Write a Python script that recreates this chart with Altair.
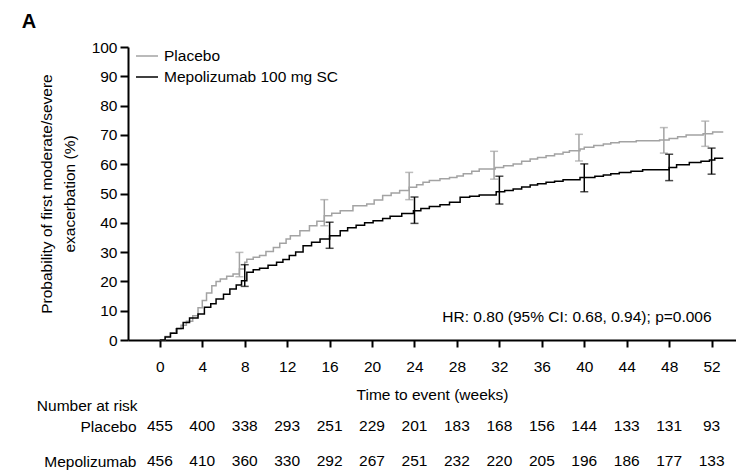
import altair as alt
import pandas as pd

SERIES = ["Placebo", "Mepolizumab 100 mg SC"]
COLORS = ["#a3a3a3", "#000000"]

# Kaplan-Meier style cumulative probability (week, %)
placebo_curve = [
    (0, 0), (0.5, 1.2), (1.0, 2.5), (1.5, 3.8), (2.0, 5.0), (2.5, 6.4), (3.1, 8.3),
    (3.6, 11.0), (4.0, 13.5), (4.4, 16.0), (4.9, 18.5), (5.3, 20.0), (5.7, 20.8),
    (6.3, 21.8), (6.9, 22.5), (7.5, 24.2), (8.0, 26.5), (8.2, 27.6), (8.8, 28.2),
    (9.4, 28.8), (10.0, 30.2), (10.7, 31.6), (11.3, 33.0), (11.9, 34.5), (12.3, 35.6),
    (13.2, 37.3), (14.1, 39.0), (14.8, 40.5), (15.5, 42.4), (16.2, 43.3), (17.0, 44.1),
    (18.2, 45.8), (19.5, 46.4), (20.2, 47.8), (21.0, 49.3), (21.8, 50.2), (22.6, 51.0),
    (23.5, 52.1), (24.2, 53.0), (24.8, 53.8), (25.4, 54.4), (26.4, 55.0), (27.3, 55.5),
    (28.0, 56.0), (28.6, 56.7), (29.4, 57.6), (30.1, 58.4), (31.6, 58.9), (32.4, 59.5),
    (33.3, 60.1), (34.1, 61.0), (34.9, 61.8), (35.6, 62.3), (36.4, 62.9), (37.2, 63.5),
    (38.0, 64.1), (38.6, 64.6), (39.6, 65.2), (40.0, 65.8), (40.9, 66.4), (41.8, 66.9),
    (42.5, 67.3), (43.3, 67.7), (44.9, 68.0), (47.1, 68.3), (48.0, 68.8), (48.8, 69.4),
    (49.6, 70.0), (51.2, 70.4), (52.1, 71.0), (53.1, 71.0),
]
mepo_curve = [
    (0, 0), (0.5, 1.0), (1.0, 2.3), (1.6, 3.9), (2.2, 6.0), (2.8, 7.5), (3.6, 8.9),
    (4.2, 11.2), (4.8, 12.4), (5.3, 14.0), (6.0, 15.6), (6.6, 17.4), (7.2, 18.8),
    (7.7, 20.2), (8.2, 23.1), (8.8, 24.0), (9.4, 24.5), (10.2, 25.5), (11.0, 26.5),
    (11.6, 27.5), (12.2, 28.8), (12.8, 30.0), (13.5, 32.2), (14.3, 33.4), (15.1, 34.5),
    (16.0, 35.6), (17.0, 37.3), (17.7, 38.3), (18.5, 39.2), (19.3, 40.0), (20.1, 40.7),
    (21.0, 41.5), (21.7, 42.2), (22.8, 43.2), (23.9, 44.1), (24.6, 44.9), (25.4, 45.6),
    (26.4, 46.2), (27.3, 47.0), (28.3, 48.7), (29.2, 49.1), (30.1, 49.5), (31.7, 50.6),
    (32.5, 51.0), (33.3, 51.5), (34.1, 52.2), (34.9, 52.9), (35.6, 53.3), (36.4, 53.8),
    (37.2, 54.2), (38.0, 54.7), (39.6, 55.5), (41.0, 55.9), (41.8, 56.3), (42.5, 56.7),
    (43.3, 57.2), (44.4, 57.6), (45.5, 58.1), (48.0, 58.9), (48.7, 59.8), (49.9, 60.6),
    (51.0, 61.0), (51.8, 61.4), (52.3, 62.0), (53.1, 62.0),
]

# 95% CI error bars
placebo_bar_weeks = [7.5, 15.5, 23.5, 31.5, 39.5, 47.5, 51.4]
placebo_upper = [29.9, 47.9, 57.2, 64.4, 70.2, 72.5, 74.7]
placebo_lower = [21.6, 39.0, 47.9, 54.9, 61.1, 63.8, 66.1]
mepo_bar_weeks = [8, 16, 24, 32, 40, 48, 52]
mepo_upper = [25.7, 40.2, 48.8, 55.9, 60.1, 63.4, 65.5]
mepo_lower = [18.3, 31.3, 39.8, 46.4, 50.6, 54.4, 56.6]

# Number at risk
risk_weeks = [0, 4, 8, 12, 16, 20, 24, 28, 32, 36, 40, 44, 48, 52]
placebo_at_risk = [455, 400, 338, 293, 251, 229, 201, 183, 168, 156, 144, 133, 131, 93]
mepo_at_risk = [456, 410, 360, 330, 292, 267, 251, 232, 220, 205, 196, 186, 177, 133]
risk_rows = ["Placebo", "Mepolizumab"]

hr_label = "HR: 0.80 (95% CI: 0.68, 0.94); p=0.006"
hr_week, hr_prob = 52.0, 7.8

x_ticks = list(range(0, 53, 4))
y_ticks = list(range(0, 101, 10))

# ---- tables ----
curve_df = pd.DataFrame(
    [{"series": SERIES[0], "week": w, "prob": p} for w, p in placebo_curve]
    + [{"series": SERIES[1], "week": w, "prob": p} for w, p in mepo_curve]
)
bars = {
    SERIES[0]: pd.DataFrame({"week": placebo_bar_weeks, "upper": placebo_upper, "lower": placebo_lower}),
    SERIES[1]: pd.DataFrame({"week": mepo_bar_weeks, "upper": mepo_upper, "lower": mepo_lower}),
}
risk_df = pd.DataFrame(
    [{"group": risk_rows[0], "week": w, "n": n} for w, n in zip(risk_weeks, placebo_at_risk)]
    + [{"group": risk_rows[1], "week": w, "n": n} for w, n in zip(risk_weeks, mepo_at_risk)]
)
hr_df = pd.DataFrame({"week": [hr_week], "prob": [hr_prob], "label": [hr_label]})

FS = 15.5
W, H = 608, 293
x_scale = alt.Scale(domain=[-3, 54.3], nice=False, zero=False)
y_scale = alt.Scale(domain=[0, 100], nice=False)

x_axis = alt.Axis(values=x_ticks, title="Time to event (weeks)", grid=False, tickSize=7,
                  tickWidth=2, domainWidth=2, domainColor="black", tickColor="black",
                  labelFontSize=FS, titleFontSize=FS, titleFontWeight="normal",
                  labelColor="black", titleColor="black", labelPadding=12, titlePadding=13,
                  labelFlush=False)
y_axis = alt.Axis(values=y_ticks, title=["Probability of first moderate/severe", "exacerbation (%)"],
                  grid=False, tickSize=8, tickWidth=2, domainWidth=2, domainColor="black",
                  tickColor="black", labelFontSize=FS, titleFontSize=FS, titleFontWeight="normal",
                  labelColor="black", titleColor="black", labelPadding=3, titlePadding=14,
                  titleLineHeight=23, labelFlush=False)


def X(field="week"):
    return alt.X(f"{field}:Q", scale=x_scale, axis=x_axis)


def Y(field):
    return alt.Y(f"{field}:Q", scale=y_scale, axis=y_axis)


lines = alt.Chart(curve_df).mark_line(interpolate="step-after", strokeWidth=1.5).encode(
    x=X(), y=Y("prob"),
    color=alt.Color("series:N", scale=alt.Scale(domain=SERIES, range=COLORS), sort=SERIES,
                    legend=alt.Legend(title=None, orient="none", legendX=7, legendY=-3,
                                      symbolType="stroke", symbolSize=484, symbolStrokeWidth=1.5,
                                      labelFontSize=FS, labelColor="black", labelOffset=5,
                                      labelLimit=0, padding=0, rowPadding=-3)),
)

err_layers = []
for s, c in zip(SERIES, COLORS):
    d = bars[s]
    err_layers.append(alt.Chart(d).mark_rule(color=c, strokeWidth=1.5).encode(
        x=X(), y=Y("lower"), y2="upper"))
    for f in ["upper", "lower"]:
        err_layers.append(alt.Chart(d).mark_tick(color=c, orient="horizontal", size=8,
                                                 thickness=1.5).encode(x=X(), y=Y(f)))

hr_text = alt.Chart(hr_df).mark_text(align="right", baseline="middle", fontSize=FS,
                                     color="black").encode(x=X(), y=Y("prob"), text="label:N")

top = alt.layer(lines, *err_layers, hr_text).properties(width=W, height=H)

table = alt.Chart(risk_df).mark_text(fontSize=FS, baseline="middle", color="black").encode(
    x=alt.X("week:Q", scale=x_scale, axis=None),
    y=alt.Y("group:N", sort=risk_rows, scale=alt.Scale(type="point", padding=0),
            axis=alt.Axis(title=None, domain=False, ticks=False, labelFontSize=FS,
                          labelColor="black", labelPadding=-8)),
    text="n:Q",
).properties(width=W, height=35,
             title=alt.TitleParams("Number at risk", anchor="start", fontSize=FS,
                                   fontWeight="normal", color="black", dx=-7, offset=5))

chart = alt.vconcat(top, table, spacing=-5).properties(
    title=alt.TitleParams("A", anchor="start", fontSize=20, fontWeight="bold", color="black",
                          dx=-15, offset=8),
    padding={"left": 13, "top": 4, "right": 0, "bottom": 0},
).configure(font="Liberation Sans").configure_view(stroke=None)

chart.save("out.html", embed_options={"renderer": "svg", "actions": False})
